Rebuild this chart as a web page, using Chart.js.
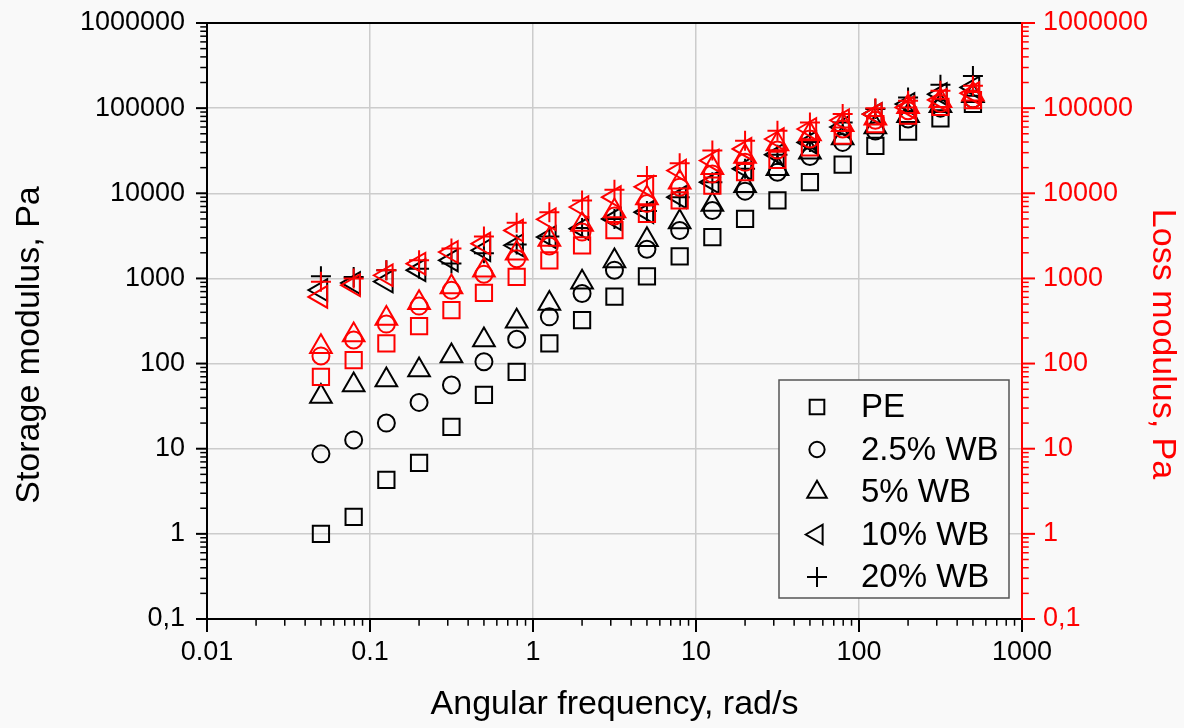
<!DOCTYPE html>
<html>
<head>
<meta charset="utf-8">
<title>Storage and loss modulus vs angular frequency</title>
<script src="https://cdn.jsdelivr.net/npm/chart.js@4.4.1/dist/chart.umd.min.js"></script>
<style>
  html, body { margin: 0; padding: 0; background: #f9f9f9; }
  #wrap { width: 1184px; height: 728px; }
</style>
</head>
<body>
<div id="wrap"><canvas id="modulusChart" width="1184" height="728"></canvas></div>
<script>
// angular frequency sweep, rad/s (5 points per decade)
const frequencies = [0.05, 0.0794, 0.126, 0.2, 0.316, 0.5, 0.794, 1.26, 2, 3.16, 5, 7.94, 12.6, 20, 31.6, 50, 79.4, 126, 200, 316, 500];
const seriesLabels = ['PE', '2.5% WB', '5% WB', '10% WB', '20% WB'];

// storage modulus G', Pa (left axis, black)
const storagePE = [1.0, 1.58, 4.3, 6.8, 18, 43, 80, 173, 324, 610, 1060, 1820, 3060, 5020, 8240, 13500, 21700, 36000, 53000, 76000, 112000];
const storage25 = [8.7, 12.7, 20, 35, 56, 105, 193, 354, 665, 1250, 2200, 3660, 6290, 10600, 17700, 27000, 39600, 54000, 74500, 100000, 128000];
const storage5 = [41, 56, 64, 84, 123, 189, 315, 508, 900, 1600, 2850, 4590, 7400, 12300, 19400, 30300, 44700, 60000, 81500, 106700, 139700];
const storage10 = [730, 885, 920, 1250, 1630, 2140, 2450, 3060, 3840, 5000, 6000, 9000, 13500, 19400, 28400, 39600, 60000, 85100, 111700, 146000, 175000];
const storage20 = [1060, 1040, 1250, 1300, 1500, 1970, 2500, 3100, 3900, 5000, 6200, 9000, 13500, 19400, 28400, 40000, 68000, 97700, 133000, 188000, 239000];

// loss modulus G'', Pa (right axis, red)
const lossPE = [70, 110, 173, 275, 425, 676, 1040, 1630, 2450, 3700, 5750, 8240, 12300, 17700, 24700, 34700, 47500, 65100, 81500, 103800, 124000];
const loss25 = [123, 189, 291, 473, 728, 1120, 1700, 2400, 3500, 5400, 7600, 11800, 16900, 23100, 32300, 43400, 56900, 72000, 93300, 113500, 128000];
const loss5 = [158, 216, 339, 517, 794, 1250, 1980, 2860, 4300, 6200, 8800, 13500, 19900, 27000, 38000, 49800, 63900, 76000, 103800, 122000, 146000];
const loss10 = [607, 832, 1090, 1490, 2040, 2560, 3660, 4950, 6900, 9000, 11900, 18500, 24200, 33200, 43400, 56900, 72000, 85000, 102000, 125000, 150000];
const loss20 = [912, 1000, 1250, 1630, 2240, 3100, 4500, 6000, 8200, 11000, 16000, 22500, 31700, 41500, 54300, 68000, 85100, 100000, 122000, 160000, 183000];

const xTickValues = [0.01, 0.1, 1, 10, 100, 1000];
const xTickLabels = ['0.01', '0.1', '1', '10', '100', '1000'];
const yTickValues = [0.1, 1, 10, 100, 1000, 10000, 100000, 1000000];
const yTickLabels = ['0,1', '1', '10', '100', '1000', '10000', '100000', '1000000'];

const storageSeries = [storagePE, storage25, storage5, storage10, storage20];
const lossSeries = [lossPE, loss25, loss5, loss10, loss20];

const markerStyle = ['rect', 'circle', 'triangle', 'triangle', 'cross'];
const markerRotation = [0, 0, 0, -90, 0];
const markerRadius = [11.5, 8.5, 12.5, 12.5, 10];

const FONT = "'Liberation Sans', Arial, sans-serif";
const BG = '#f9f9f9';
const RED = '#ff0000';

function toPoints(values) {
    return frequencies.map((f, i) => ({ x: f, y: values[i] }));
}

function makeDataset(values, i, color, axis, order) {
    return {
        label: seriesLabels[i],
        data: toPoints(values),
        yAxisID: axis,
        order: order,
        showLine: false,
        pointStyle: markerStyle[i],
        rotation: markerRotation[i],
        pointRadius: markerRadius[i],
        pointHoverRadius: markerRadius[i],
        pointBorderWidth: 2,
        pointBorderColor: color,
        pointBackgroundColor: 'rgba(0,0,0,0)'
    };
}

const datasets = [];
storageSeries.forEach((vals, i) => datasets.push(makeDataset(vals, i, '#000000', 'y', 1)));
lossSeries.forEach((vals, i) => datasets.push(makeDataset(vals, i, RED, 'y2', 0)));

function decadeTicks(scale, values) {
    scale.ticks = values.map((v) => ({ value: v }));
}

function fixWidth(scale, w) {
    scale.width = w;
    scale.paddingTop = 0;
    scale.paddingBottom = 0;
}

// minor ticks at 2..9 x each decade, between min and max
function logTickValues(min, max) {
    const out = [];
    for (let d = Math.round(Math.log10(min)); d < Math.round(Math.log10(max)); d++) {
        for (let m = 1; m < 10; m++) out.push({ v: m * Math.pow(10, d), major: m === 1 });
    }
    out.push({ v: max, major: true });
    return out;
}

const framePlugin = {
    id: 'frame',
    beforeDraw(chart) {
        const ctx = chart.ctx;
        ctx.save();
        ctx.fillStyle = BG;
        ctx.fillRect(0, 0, chart.width, chart.height);
        ctx.restore();
    },
    afterDraw(chart) {
        const ctx = chart.ctx;
        const { left, right, top, bottom } = chart.chartArea;
        const xs = chart.scales.x, ys = chart.scales.y, y2 = chart.scales.y2;
        ctx.save();
        ctx.lineCap = 'square';

        // tick marks, all pointing outward
        logTickValues(xs.min, xs.max).forEach((t) => {
            const px = xs.getPixelForValue(t.v);
            ctx.strokeStyle = '#000';
            ctx.lineWidth = t.major ? 2 : 1.5;
            ctx.beginPath();
            ctx.moveTo(px, bottom);
            ctx.lineTo(px, bottom + (t.major ? 12 : 6));
            ctx.stroke();
        });
        logTickValues(ys.min, ys.max).forEach((t) => {
            const py = ys.getPixelForValue(t.v);
            ctx.strokeStyle = '#000';
            ctx.lineWidth = t.major ? 2 : 1.5;
            ctx.beginPath();
            ctx.moveTo(left, py);
            ctx.lineTo(left - (t.major ? 10 : 6), py);
            ctx.stroke();
        });
        logTickValues(y2.min, y2.max).forEach((t) => {
            const py = y2.getPixelForValue(t.v);
            ctx.strokeStyle = RED;
            ctx.lineWidth = t.major ? 2 : 1.5;
            ctx.beginPath();
            ctx.moveTo(right, py);
            ctx.lineTo(right + (t.major ? 12 : 6), py);
            ctx.stroke();
        });

        // frame
        ctx.lineWidth = 2;
        ctx.strokeStyle = '#000';
        ctx.beginPath();
        ctx.moveTo(right, top);
        ctx.lineTo(left, top);
        ctx.lineTo(left, bottom);
        ctx.lineTo(right, bottom);
        ctx.stroke();
        ctx.strokeStyle = RED;
        ctx.beginPath();
        ctx.moveTo(right, top);
        ctx.lineTo(right, bottom);
        ctx.stroke();

        // vertical axis titles
        ctx.font = '34px ' + FONT;
        ctx.textAlign = 'center';
        ctx.textBaseline = 'middle';
        ctx.fillStyle = '#000';
        ctx.save();
        ctx.translate(30, 345);
        ctx.rotate(-Math.PI / 2);
        ctx.fillText('Storage modulus, Pa', 0, 0);
        ctx.restore();
        ctx.fillStyle = RED;
        ctx.save();
        ctx.translate(1162, 344);
        ctx.rotate(Math.PI / 2);
        ctx.fillText('Loss modulus, Pa', 0, 0);
        ctx.restore();

        // legend box (storage symbols only, as in the original figure)
        const box = { x: 779, y: 380, w: 230, h: 218 };
        ctx.fillStyle = BG;
        ctx.fillRect(box.x, box.y, box.w, box.h);
        ctx.strokeStyle = '#555';
        ctx.lineWidth = 1.5;
        ctx.strokeRect(box.x, box.y, box.w, box.h);
        ctx.font = '33px ' + FONT;
        ctx.textAlign = 'left';
        seriesLabels.forEach((label, i) => {
            const cy = box.y + 27 + i * 42.5;
            ctx.strokeStyle = '#000';
            ctx.fillStyle = 'rgba(0,0,0,0)';
            ctx.lineWidth = 2;
            Chart.helpers.drawPoint(ctx, {
                pointStyle: markerStyle[i],
                rotation: markerRotation[i],
                radius: markerRadius[i] * 0.9,
                borderWidth: 2
            }, box.x + 38, cy);
            ctx.fillStyle = '#000';
            ctx.fillText(label, box.x + 82, cy + 1);
        });
        ctx.restore();
    }
};

const tickFont = { family: FONT, size: 27 };

new Chart(document.getElementById('modulusChart').getContext('2d'), {
    type: 'scatter',
    data: { datasets },
    plugins: [framePlugin],
    options: {
        responsive: false,
        animation: false,
        layout: { padding: { top: 23, left: 0, right: 0, bottom: 0 } },
        plugins: { legend: { display: false }, tooltip: { enabled: false } },
        scales: {
            x: {
                type: 'logarithmic',
                position: 'bottom',
                min: 0.01,
                max: 1000,
                afterBuildTicks: (s) => decadeTicks(s, xTickValues),
                afterFit: (s) => { s.height = 109; s.paddingLeft = 0; s.paddingRight = 0; },
                grid: { color: '#cccccc', lineWidth: 1.5, drawTicks: false },
                border: { display: false },
                ticks: { autoSkip: false, maxRotation: 0, padding: 17, color: '#000', font: tickFont, callback: (v, i) => xTickLabels[i] },
                title: { display: true, text: 'Angular frequency, rad/s', color: '#000', font: { family: FONT, size: 34 }, padding: { top: 0, bottom: 3 } }
            },
            y: {
                type: 'logarithmic',
                position: 'left',
                min: 0.1,
                max: 1000000,
                afterBuildTicks: (s) => decadeTicks(s, yTickValues),
                afterFit: (s) => fixWidth(s, 207),
                grid: { color: '#cccccc', lineWidth: 1.5, drawTicks: false },
                border: { display: false },
                ticks: { autoSkip: false, padding: 22, color: '#000', font: tickFont, callback: (v, i) => yTickLabels[i] }
            },
            y2: {
                type: 'logarithmic',
                position: 'right',
                min: 0.1,
                max: 1000000,
                afterBuildTicks: (s) => decadeTicks(s, yTickValues),
                afterFit: (s) => fixWidth(s, 162),
                grid: { drawOnChartArea: false, drawTicks: false },
                border: { display: false },
                ticks: { autoSkip: false, padding: 21, color: RED, font: tickFont, callback: (v, i) => yTickLabels[i] }
            }
        }
    }
});
</script>
</body>
</html>
